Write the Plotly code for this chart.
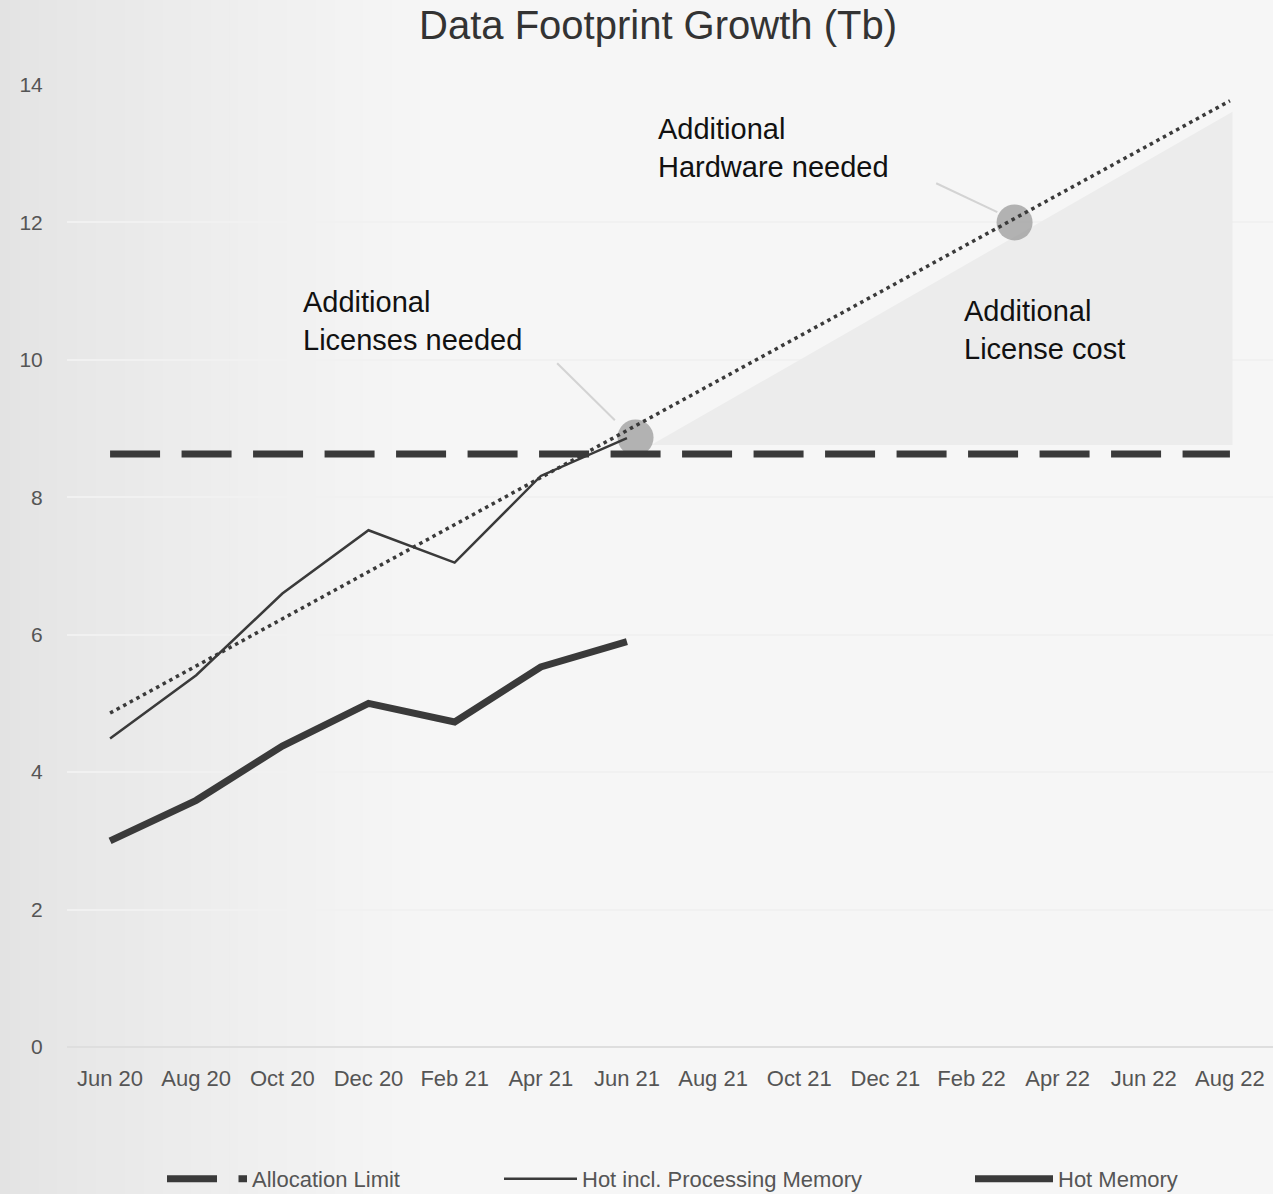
import plotly.graph_objects as go

# ---------------- data ----------------
months = ["Jun 20", "Aug 20", "Oct 20", "Dec 20", "Feb 21", "Apr 21", "Jun 21",
          "Aug 21", "Oct 21", "Dec 21", "Feb 22", "Apr 22", "Jun 22", "Aug 22"]
month_pos = list(range(len(months)))

allocation_limit = [8.63] * len(months)
hot_incl_processing = [4.49, 5.41, 6.60, 7.52, 7.05, 8.31, 8.86]
hot_memory = [3.00, 3.59, 4.38, 5.00, 4.73, 5.53, 5.90]

trend_pos = [0, 13]          # Jun 20 -> Aug 22
trend_val = [4.86, 13.77]

milestone_pos = [6.1, 10.5]  # licences exceeded, hardware needed
milestone_val = [8.87, 12.0]

cost_area_pos = [6.28, 13.03, 13.03]
cost_area_val = [8.76, 13.61, 8.76]

y_ticks = [0, 2, 4, 6, 8, 10, 12, 14]

# ---------------- geometry helpers (figure px -> paper) ----------------
W, H = 1273, 1194
L, R, T, B = 67, 0, 85, 147
PW, PH = W - L - R, H - T - B


def px_x(px):
    return (px - L) / PW


def px_y(py):
    return (H - B - py) / PH


FONT = "Liberation Sans, Arial, Helvetica, sans-serif"
LINE = "#3a3a3a"

fig = go.Figure()

# shaded "Additional License cost" area
fig.add_trace(go.Scatter(
    x=cost_area_pos, y=cost_area_val, mode="lines", fill="toself",
    fillcolor="#ececec", line=dict(width=0), showlegend=False, hoverinfo="skip"))

# milestone circles
fig.add_trace(go.Scatter(
    x=milestone_pos, y=milestone_val, mode="markers",
    marker=dict(size=36, color="rgba(155,155,155,0.75)", line=dict(width=0)),
    showlegend=False, hoverinfo="skip"))

# allocation limit
fig.add_trace(go.Scatter(
    x=month_pos, y=allocation_limit, mode="lines", name="Allocation Limit",
    line=dict(color=LINE, width=7, dash="50px,21.5px"), legend="legend"))

# hot incl processing memory
fig.add_trace(go.Scatter(
    x=month_pos[:len(hot_incl_processing)], y=hot_incl_processing, mode="lines",
    name="Hot incl. Processing Memory", line=dict(color=LINE, width=2.5),
    legend="legend2"))

# hot memory
fig.add_trace(go.Scatter(
    x=month_pos[:len(hot_memory)], y=hot_memory, mode="lines",
    name="Hot Memory", line=dict(color=LINE, width=7), legend="legend3"))

# trend line
fig.add_trace(go.Scatter(
    x=trend_pos, y=trend_val, mode="lines", line=dict(color=LINE, width=3.5, dash="3.5px,4px"),
    showlegend=False, hoverinfo="skip"))

# ---------------- background gradient ----------------
shapes = []
N = 45
grad_end = 430
for i in range(N):
    x0 = grad_end * i / N
    x1 = grad_end * (i + 1) / N + 1
    t = (i + 0.5) / N
    v = int(round(227 + (246 - 227) * (t ** 0.85)))
    shapes.append(dict(type="rect", xref="paper", yref="paper",
                       x0=px_x(x0), x1=px_x(x1), y0=px_y(H), y1=px_y(0),
                       fillcolor=f"rgb({v},{v},{v})", line=dict(width=0), layer="below"))

# pointer lines
pointer_lines = [((5.19, 9.95), (5.86, 9.12)), ((9.59, 12.57), (10.30, 12.15))]
for (xa, ya), (xb, yb) in pointer_lines:
    shapes.append(dict(type="line", xref="x", yref="y", x0=xa, y0=ya, x1=xb, y1=yb,
                       line=dict(color="#d3d3d3", width=2), layer="above"))

annotations = [
    dict(x=2.22, y=10.57, text="Additional<br>Licenses needed"),
    dict(x=6.34, y=13.09, text="Additional<br>Hardware needed"),
    dict(x=9.89, y=10.43, text="Additional<br>License cost"),
]
annotations = [dict(a, xref="x", yref="y", xanchor="left", yanchor="middle", align="left",
                    showarrow=False, font=dict(family=FONT, size=29, color="#111111"))
               for a in annotations]

legend_common = dict(orientation="h", yanchor="middle", xanchor="left",
                     y=px_y(1179), bgcolor="rgba(0,0,0,0)",
                     font=dict(family=FONT, size=22, color="#555555"))

fig.update_layout(
    width=W, height=H,
    margin=dict(l=L, r=R, t=T, b=B, autoexpand=False),
    paper_bgcolor="#f6f6f6", plot_bgcolor="rgba(0,0,0,0)",
    title=dict(text="Data Footprint Growth (Tb)", x=px_x(658), xref="paper", xanchor="center",
               y=1 - 25 / H, yref="container", yanchor="middle",
               font=dict(family=FONT, size=40, color="#333333")),
    xaxis=dict(range=[-0.5, 13.5], tickmode="array", tickvals=month_pos, ticktext=months,
               showgrid=False, zeroline=False, showline=False,
               ticks="outside", ticklen=12, tickcolor="rgba(0,0,0,0)",
               tickfont=dict(family=FONT, size=22, color="#555555")),
    yaxis=dict(range=[0, 14], tickmode="array", tickvals=y_ticks,
               showgrid=True, gridcolor="#f1f1f1", gridwidth=1.5,
               zeroline=True, zerolinecolor="#dedede", zerolinewidth=1.5, showline=False,
               ticks="outside", ticklen=19, tickcolor="rgba(0,0,0,0)",
               tickfont=dict(family=FONT, size=21, color="#555555")),
    shapes=shapes,
    annotations=annotations,
    legend=dict(legend_common, x=px_x(162), itemwidth=80),
    legend2=dict(legend_common, x=px_x(499), itemwidth=73),
    legend3=dict(legend_common, x=px_x(970), itemwidth=78),
    showlegend=True,
)

fig.write_html("out.html", config={"displayModeBar": False},
               post_script="document.body.style.margin='0px';"
                           "document.body.style.background='#f6f6f6';")
